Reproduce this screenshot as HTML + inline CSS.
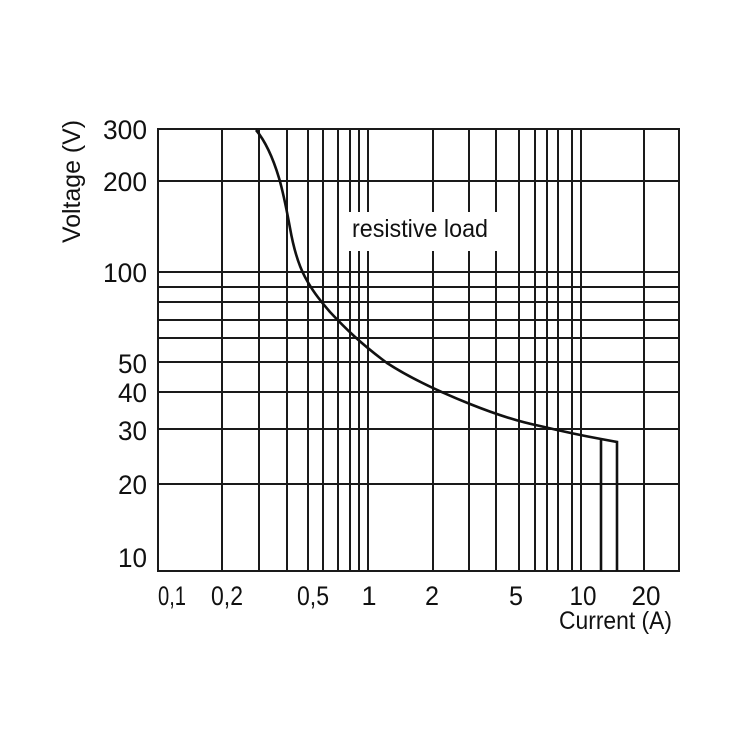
<!DOCTYPE html>
<html><head><meta charset="utf-8"><style>html,body{margin:0;padding:0;background:#fff}</style></head>
<body>
<svg width="750" height="750" xmlns="http://www.w3.org/2000/svg" font-family="Liberation Sans, sans-serif" fill="#111">
<rect width="750" height="750" fill="#fff"/>
<g stroke="#1a1a1a" stroke-width="2" fill="none">
<line x1="158" y1="181" x2="679" y2="181"/>
<line x1="158" y1="272" x2="679" y2="272"/>
<line x1="158" y1="287" x2="679" y2="287"/>
<line x1="158" y1="302" x2="679" y2="302"/>
<line x1="158" y1="320" x2="679" y2="320"/>
<line x1="158" y1="338" x2="679" y2="338"/>
<line x1="158" y1="362" x2="679" y2="362"/>
<line x1="158" y1="392" x2="679" y2="392"/>
<line x1="158" y1="429" x2="679" y2="429"/>
<line x1="158" y1="484" x2="679" y2="484"/>
<line x1="222" y1="129" x2="222" y2="571"/>
<line x1="259" y1="129" x2="259" y2="571"/>
<line x1="287" y1="129" x2="287" y2="571"/>
<line x1="308" y1="129" x2="308" y2="571"/>
<line x1="323" y1="129" x2="323" y2="571"/>
<line x1="338" y1="129" x2="338" y2="571"/>
<path d="M350 129V212M350 251V571"/>
<path d="M359 129V212M359 251V571"/>
<path d="M368 129V212M368 251V571"/>
<path d="M433 129V212M433 251V571"/>
<path d="M469 129V212M469 251V571"/>
<path d="M496 129V212M496 251V571"/>
<line x1="519" y1="129" x2="519" y2="571"/>
<line x1="535" y1="129" x2="535" y2="571"/>
<line x1="547" y1="129" x2="547" y2="571"/>
<line x1="558" y1="129" x2="558" y2="571"/>
<line x1="572" y1="129" x2="572" y2="571"/>
<line x1="581" y1="129" x2="581" y2="571"/>
<line x1="644" y1="129" x2="644" y2="571"/>
<rect x="158" y="129" width="521" height="442"/>
</g>
<path d="M256 130 C266 142 273 158 279 178 C284 195 287 212 290 228 C293 245 297 262 305 277 C312 290 318 298 330 312 C345 328 360 343 387 363 C410 378 440 392 470 404 C500 416 520 422 540 426 C565 432 590 437 601 439 L617 442 L617 571 M601 439 L601 571" stroke="#111" stroke-width="2.6" fill="none"/>
<text x="352" y="237" font-size="25" textLength="136" lengthAdjust="spacingAndGlyphs">resistive load</text>
<g font-size="27" text-anchor="end">
<text x="147" y="139" textLength="44" lengthAdjust="spacingAndGlyphs">300</text>
<text x="147" y="191" textLength="44" lengthAdjust="spacingAndGlyphs">200</text>
<text x="147" y="282" textLength="44" lengthAdjust="spacingAndGlyphs">100</text>
<text x="147" y="373" textLength="29" lengthAdjust="spacingAndGlyphs">50</text>
<text x="147" y="402" textLength="29" lengthAdjust="spacingAndGlyphs">40</text>
<text x="147" y="440" textLength="29" lengthAdjust="spacingAndGlyphs">30</text>
<text x="147" y="494" textLength="29" lengthAdjust="spacingAndGlyphs">20</text>
<text x="147" y="567" textLength="29" lengthAdjust="spacingAndGlyphs">10</text>
</g>
<g font-size="27" text-anchor="middle">
<text x="172" y="605" textLength="28" lengthAdjust="spacingAndGlyphs">0,1</text>
<text x="227" y="605" textLength="32" lengthAdjust="spacingAndGlyphs">0,2</text>
<text x="313" y="605" textLength="32" lengthAdjust="spacingAndGlyphs">0,5</text>
<text x="369" y="605">1</text>
<text x="432" y="605" textLength="14" lengthAdjust="spacingAndGlyphs">2</text>
<text x="516" y="605" textLength="14" lengthAdjust="spacingAndGlyphs">5</text>
<text x="583" y="605" textLength="27" lengthAdjust="spacingAndGlyphs">10</text>
<text x="646" y="605" textLength="29" lengthAdjust="spacingAndGlyphs">20</text>
</g>
<text x="559" y="629" font-size="25" textLength="113" lengthAdjust="spacingAndGlyphs">Current (A)</text>
<text transform="translate(80,243) rotate(-90)" font-size="25" textLength="123" lengthAdjust="spacingAndGlyphs">Voltage (V)</text>
</svg>
</body></html>
